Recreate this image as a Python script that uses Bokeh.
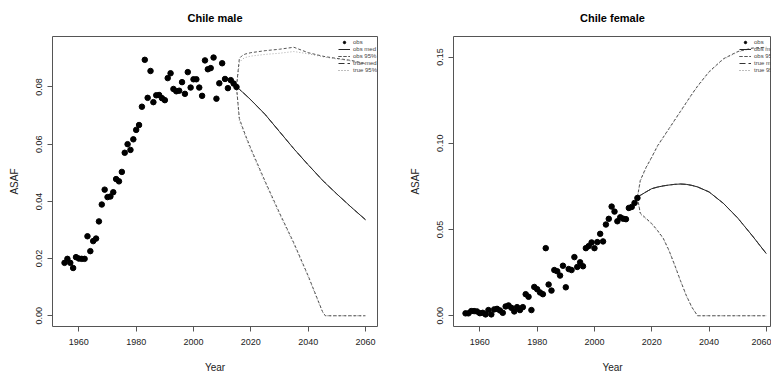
from bokeh.plotting import figure
from bokeh.layouts import row
from bokeh.models import Range1d, FixedTicker, PrintfTickFormatter, Legend, LegendItem
from bokeh.embed import file_html
from bokeh.resources import INLINE

FONT = "Liberation Sans"

# ---------------- data ----------------
obs_years = list(range(1955, 2016))

male_obs = [0.0185, 0.0199, 0.0185, 0.0167, 0.0205, 0.0200, 0.0199, 0.0199, 0.0278, 0.0226,
            0.0261, 0.0270, 0.0330, 0.0389, 0.0441, 0.0415, 0.0417, 0.0432, 0.0478, 0.0470,
            0.0503, 0.0570, 0.0600, 0.0580, 0.0617, 0.0650, 0.0667, 0.0731, 0.0895, 0.0762,
            0.0856, 0.0747, 0.0771, 0.0772, 0.0761, 0.0754, 0.0831, 0.0848, 0.0793, 0.0785,
            0.0787, 0.0817, 0.0776, 0.0852, 0.0798, 0.0827, 0.0827, 0.0798, 0.0769, 0.0893,
            0.0862, 0.0866, 0.0903, 0.0759, 0.0813, 0.0883, 0.0828, 0.0796, 0.0824, 0.0812,
            0.0800]

female_obs = [0.0014, 0.0014, 0.0027, 0.0027, 0.0025, 0.0015, 0.0017, 0.0008, 0.0033, 0.0008,
              0.0037, 0.0040, 0.0031, 0.0017, 0.0054, 0.0060, 0.0046, 0.0025, 0.0050, 0.0033,
              0.0050, 0.0125, 0.0110, 0.0033, 0.0167, 0.0154, 0.0135, 0.0125, 0.0392, 0.0181,
              0.0146, 0.0265, 0.0258, 0.0233, 0.0290, 0.0165, 0.0271, 0.0265, 0.0340, 0.0283,
              0.0310, 0.0287, 0.0392, 0.0404, 0.0425, 0.0392, 0.0427, 0.0475, 0.0431, 0.0529,
              0.0562, 0.0633, 0.0604, 0.0548, 0.0571, 0.0563, 0.0560, 0.0625, 0.0631, 0.0654,
              0.0683]

male_proj_years = [2015, 2016, 2017, 2018, 2020, 2025, 2030, 2035, 2040, 2045, 2046, 2050, 2055, 2060]
male_med     = [0.0800, 0.0792, 0.0783, 0.0774, 0.0755, 0.0704, 0.0644, 0.0584, 0.0528, 0.0474, 0.0464, 0.0426, 0.0380, 0.0336]
male_obs_hi  = [0.0800, 0.0900, 0.0910, 0.0915, 0.0920, 0.0927, 0.0932, 0.0939, 0.0920, 0.0908, 0.0906, 0.0900, 0.0893, 0.0882]
male_obs_lo  = [0.0800, 0.0690, 0.0662, 0.0635, 0.0585, 0.0470, 0.0360, 0.0255, 0.0140, 0.0015, 0.0000, 0.0000, 0.0000, 0.0000]
male_true_hi = [0.0800, 0.0885, 0.0897, 0.0903, 0.0908, 0.0914, 0.0918, 0.0924, 0.0916, 0.0906, 0.0904, 0.0898, 0.0891, 0.0880]
male_true_lo = [0.0800, 0.0680, 0.0655, 0.0628, 0.0578, 0.0464, 0.0354, 0.0250, 0.0136, 0.0012, 0.0000, 0.0000, 0.0000, 0.0000]

female_proj_years = [2015, 2016, 2018, 2020, 2022, 2024, 2026, 2028, 2030, 2032, 2034, 2036, 2040, 2045, 2050, 2055, 2060]
female_med     = [0.0687, 0.0698, 0.0718, 0.0737, 0.0746, 0.0753, 0.0758, 0.0762, 0.0764, 0.0762, 0.0756, 0.0747, 0.0718, 0.0652, 0.0567, 0.0466, 0.0360]
female_obs_hi  = [0.0687, 0.0785, 0.0860, 0.0920, 0.0985, 0.1035, 0.1085, 0.1135, 0.1185, 0.1235, 0.1285, 0.1332, 0.1415, 0.1490, 0.1532, 0.1552, 0.1557]
female_obs_lo  = [0.0687, 0.0595, 0.0565, 0.0535, 0.0495, 0.0450, 0.0380, 0.0295, 0.0205, 0.0120, 0.0050, 0.0000, 0.0000, 0.0000, 0.0000, 0.0000, 0.0000]
female_true_hi = [0.0687, 0.0778, 0.0855, 0.0916, 0.0981, 0.1031, 0.1081, 0.1131, 0.1181, 0.1231, 0.1281, 0.1328, 0.1411, 0.1487, 0.1529, 0.1550, 0.1555]
female_true_lo = [0.0687, 0.0588, 0.0560, 0.0530, 0.0490, 0.0446, 0.0376, 0.0291, 0.0201, 0.0117, 0.0047, 0.0000, 0.0000, 0.0000, 0.0000, 0.0000, 0.0000]

x_ticks = [1960, 1980, 2000, 2020, 2040, 2060]
male_y_ticks = [0.00, 0.02, 0.04, 0.06, 0.08]
female_y_ticks = [0.00, 0.05, 0.10, 0.15]
legend_labels = ["obs", "obs med", "obs 95%", "true med", "true 95%"]


def make_panel(title, obs, pyears, med, ohi, olo, thi, tlo, yticks, ymax,
               width, border_left, border_right, x_end):
    p = figure(width=width, height=380, output_backend="svg", toolbar_location=None,
               x_range=Range1d(1950.8, x_end), y_range=Range1d(-0.04 * ymax, 1.04 * ymax),
               min_border_left=border_left, min_border_right=border_right,
               min_border_top=35, min_border_bottom=54)
    p.xgrid.visible = False
    p.ygrid.visible = False
    p.outline_line_color = "#555555"
    p.outline_line_width = 1
    p.background_fill_color = "white"
    p.border_fill_color = "white"

    p.title.text = title
    p.title.align = "center"
    p.title.vertical_align = "top"
    p.title.text_font = FONT
    p.title.text_font_size = "11px"
    p.title.text_font_style = "bold"
    p.title.text_color = "black"
    p.title.standoff = 22

    p.xaxis.ticker = FixedTicker(ticks=x_ticks)
    p.yaxis.ticker = FixedTicker(ticks=yticks)
    p.yaxis.formatter = PrintfTickFormatter(format="%.2f")
    p.xaxis.axis_label = "Year"
    p.yaxis.axis_label = "ASAF"
    p.yaxis.major_label_orientation = "vertical"
    for ax in (p.xaxis[0], p.yaxis[0]):
        ax.axis_line_color = None
        ax.major_tick_line_color = "#555555"
        ax.major_tick_out = 5
        ax.major_tick_in = 0
        ax.minor_tick_line_color = None
        ax.major_label_text_font = FONT
        ax.major_label_text_font_size = "9px"
        ax.major_label_text_color = "#222222"
        ax.axis_label_text_font = FONT
        ax.axis_label_text_font_size = "10px"
        ax.axis_label_text_font_style = "normal"
        ax.axis_label_text_color = "#222222"
    p.xaxis.major_label_standoff = 7
    p.xaxis.axis_label_standoff = 14
    p.yaxis.major_label_standoff = 5
    p.yaxis.axis_label_standoff = 14

    r_thi = p.line(pyears, thi, line_color="#a8a8a8", line_dash="1 2", line_width=1)
    r_tlo = p.line(pyears, tlo, line_color="#a8a8a8", line_dash="1 2", line_width=1)
    r_ohi = p.line(pyears, ohi, line_color="#555555", line_dash="3 2", line_width=1)
    r_olo = p.line(pyears, olo, line_color="#555555", line_dash="3 2", line_width=1)
    r_med = p.line(pyears, med, line_color="#222222", line_width=1)
    r_tmed = p.line(pyears, med, line_color="#333333", line_dash="6 3", line_width=1)
    r_obs = p.scatter(obs_years, obs, size=5.5, color="black")

    items = [
        LegendItem(label=legend_labels[0], renderers=[r_obs]),
        LegendItem(label=legend_labels[1], renderers=[r_med]),
        LegendItem(label=legend_labels[2], renderers=[r_ohi, r_olo]),
        LegendItem(label=legend_labels[3], renderers=[r_tmed]),
        LegendItem(label=legend_labels[4], renderers=[r_thi, r_tlo]),
    ]
    legend = Legend(items=items, location=(286, 253), border_line_color=None,
                    background_fill_alpha=0, label_text_font=FONT, label_text_font_size="6px",
                    label_text_color="#444444", glyph_width=12, glyph_height=6, label_height=6,
                    spacing=1, padding=1, margin=0, label_standoff=3)
    p.add_layout(legend)
    return p


left = make_panel("Chile male", male_obs, male_proj_years, male_med, male_obs_hi, male_obs_lo,
                  male_true_hi, male_true_lo, male_y_ticks, 0.0939,
                  width=386, border_left=52, border_right=9, x_end=2064.2)
right = make_panel("Chile female", female_obs, female_proj_years, female_med, female_obs_hi,
                   female_obs_lo, female_true_hi, female_true_lo, female_y_ticks, 0.1557,
                   width=385, border_left=67, border_right=0, x_end=2061.8)

layout = row(left, right)
open("out.html", "w").write(file_html(layout, INLINE))
